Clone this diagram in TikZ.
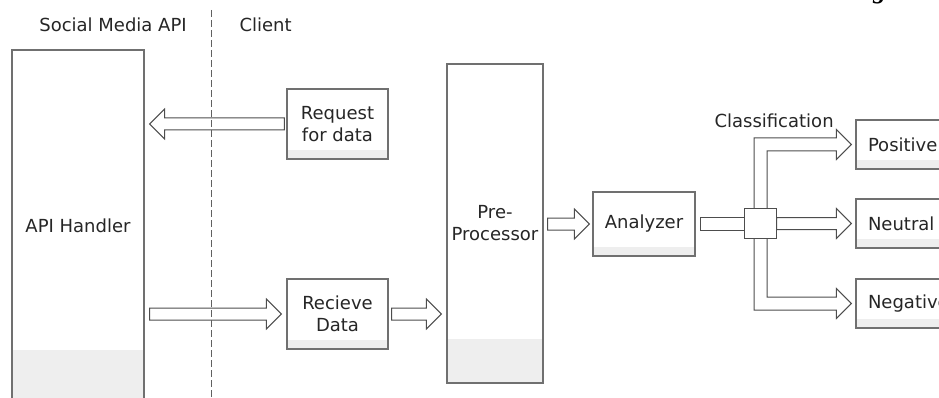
\documentclass[tikz,border=0pt]{standalone}
\usepackage{fontspec}
\setmainfont{DejaVu Sans}
\newfontfamily\headfont{Liberation Serif}
\usetikzlibrary{calc}
\definecolor{boxline}{HTML}{707070}
\definecolor{arrline}{HTML}{4D4D4D}
\definecolor{dashgray}{HTML}{606060}
\definecolor{stripgray}{HTML}{EEEEEE}
\definecolor{ink}{HTML}{262626}

\begin{document}
\begin{tikzpicture}[x=1pt,y=-1pt,
  font=\fontsize{18}{22}\selectfont, text=ink,
  box/.style={draw=boxline, line width=1.3pt, fill=white, inner sep=0pt, align=center},
  lowband/.style={path picture={\fill[stripgray] (path picture bounding box.south west)
      rectangle ([yshift=#1]path picture bounding box.south east);}},
  lowband/.default=9pt,
  rbox/.style={box, lowband, text width=84pt, inner xsep=12pt, align=left, minimum height=49pt},
  fatline/.style={draw=arrline, line width=1pt, fill=white, line join=miter},
  fatright/.style={fatline, to path={($(\tikztostart)+(0,-6)$) -- ($(\tikztotarget)+(-15,-6)$)
      -- ($(\tikztotarget)+(-15,-15)$) -- (\tikztotarget) -- ($(\tikztotarget)+(-15,15)$)
      -- ($(\tikztotarget)+(-15,6)$) -- ($(\tikztostart)+(0,6)$) -- cycle}},
  fatleft/.style={fatline, to path={($(\tikztostart)+(0,-6)$) -- ($(\tikztotarget)+(15,-6)$)
      -- ($(\tikztotarget)+(15,-15)$) -- (\tikztotarget) -- ($(\tikztotarget)+(15,15)$)
      -- ($(\tikztotarget)+(15,6)$) -- ($(\tikztostart)+(0,6)$) -- cycle}},
  divider/.style={draw=dashgray, line width=1pt, dash pattern=on 7pt off 3pt},
]
\useasboundingbox (0,0) rectangle (939,398);
\clip (0,0) rectangle (939,398);

% page header fragment
\node[anchor=base west, text=black,
      font=\headfont\bfseries\itshape\fontsize{26}{26}\selectfont] (hdr) at (838,-1.5) {August 2};

% column titles
\node[anchor=base] (smapi) at (113,31.5) {Social Media API};
\node[anchor=base west] (client) at (236,31.5) {Client};

% blocks
\node[box, lowband=52pt, minimum width=132pt, minimum height=352pt] (api) at (78,226) {API Handler};
\node[box, lowband, minimum width=101pt, minimum height=70pt] (req) at (337.5,124) {Request\\for data};
\node[box, lowband, minimum width=101pt, minimum height=70pt] (rd) at (337.5,314) {Recieve\\Data};
\node[box, lowband=44pt, minimum width=96pt, minimum height=319pt] (pre) at (495,223.5) {Pre-\\Processor};
\node[box, lowband, minimum width=102pt, minimum height=64pt] (ana) at (644,224) {Analyzer};
\node[rbox] (pos) at (910,144.5) {Positive};
\node[rbox] (neu) at (910,223.5) {Neutral};
\node[rbox] (neg) at (910,303.5) {Negative};
\node[anchor=base west] (cls) at (711,128) {Classification};

% junction
\node[draw=arrline, line width=1pt, fill=white, inner sep=0pt,
      minimum width=31pt, minimum height=29pt] (jn) at (760.5,223.5) {};

% flows
\draw[fatleft] ($(req.west)+(-2,0)$) to ($(req.west -| api.east)+(5,0)$);
\draw[fatright] ($(rd.west -| api.east)+(5,0)$) to ($(rd.west)+(-5,0)$);
\draw[fatright] ($(rd.east)+(3,0)$) to ($(rd.east -| pre.west)+(-5,0)$);
\draw[fatright] ($(ana.west -| pre.east)+(4,0)$) to ($(ana.west)+(-3,0)$);
\draw[fatline] ($(ana.east)+(5,-6.5)$) rectangle ($(jn.west)+(0,6.5)$);
\draw[fatright] (jn.east) to ($(neu.west)+(-4,0)$);
\draw[fatline] ($(jn.north)+(-6.5,0)$) |- ($(pos.west)+(-19,-6.5)$)
  -- ($(pos.west)+(-19,-15)$) -- ($(pos.west)+(-4,0)$) -- ($(pos.west)+(-19,15)$)
  -- ($(pos.west)+(-19,6.5)$) -| ($(jn.north)+(6.5,0)$);
\draw[fatline] ($(jn.south)+(-6.5,0)$) |- ($(neg.west)+(-19,6.5)$)
  -- ($(neg.west)+(-19,15)$) -- ($(neg.west)+(-4,0)$) -- ($(neg.west)+(-19,-15)$)
  -- ($(neg.west)+(-19,-6.5)$) -| ($(jn.south)+(6.5,0)$);
\draw[draw=arrline, line width=1pt, fill=white] (jn.south west) rectangle (jn.north east);

% boundary between API side and client side
\coordinate (divtop) at (211,10);
\coordinate (divbot) at (211,400);
\draw[divider] (divtop) -- (divbot);
\end{tikzpicture}
\end{document}
